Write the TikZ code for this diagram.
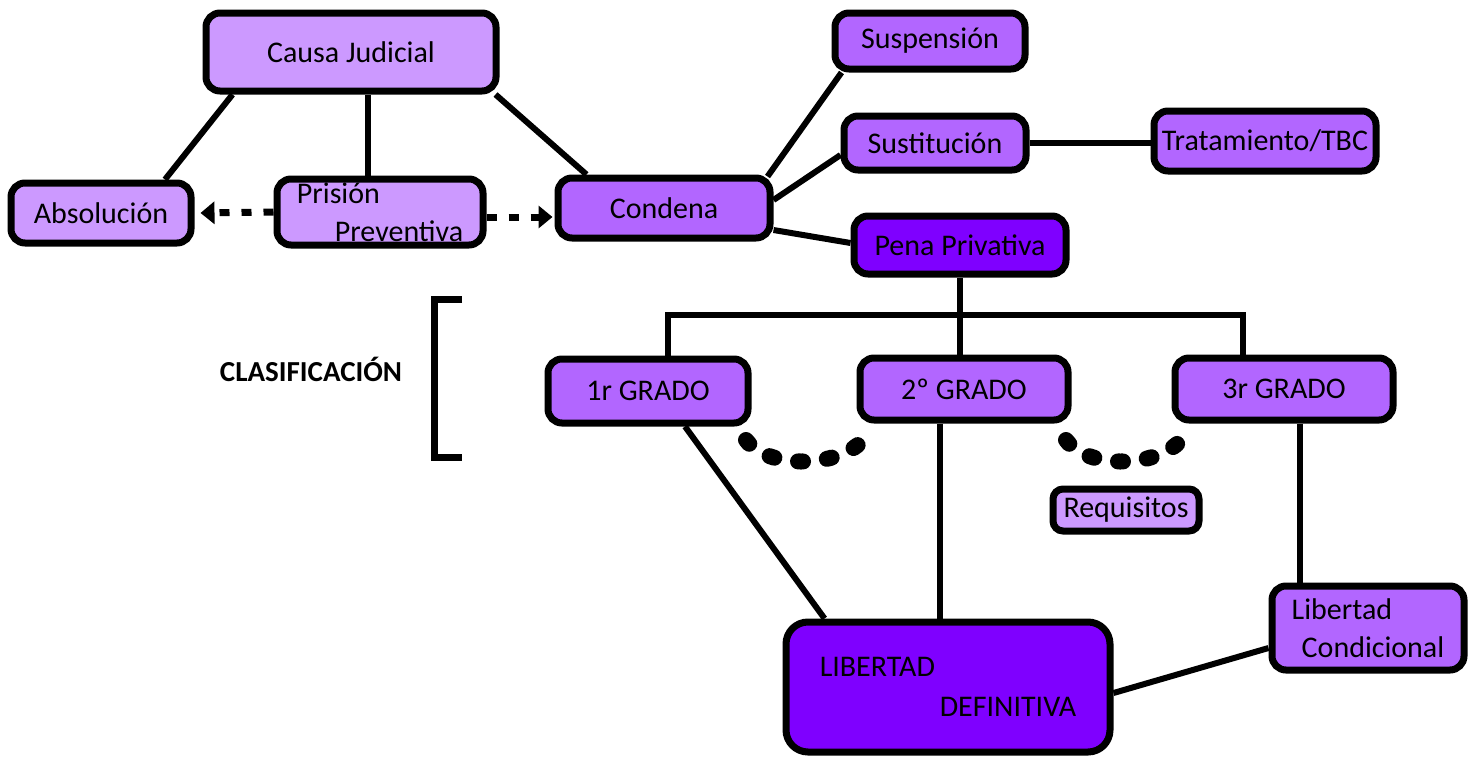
\documentclass[tikz,border=0pt]{standalone}
\usepackage{fontspec}
\setmainfont{Carlito}
\usetikzlibrary{arrows.meta,calc}
\definecolor{lightp}{HTML}{CC99FF}
\definecolor{midp}{HTML}{B266FF}
\definecolor{darkp}{HTML}{7F00FF}
\tikzset{
  box/.style={draw=black, line width=7pt, rounded corners=14pt, inner sep=0pt, font=\fontsize{30}{36}\selectfont},
  conn/.style={draw=black, line width=6pt},
  dots/.style={draw=black, line width=16pt, line cap=round, dash pattern=on 5pt off 24pt},
  dashdot/.style={draw=black, line width=7pt, dash pattern=on 10pt off 12pt, -{Triangle[length=14pt,width=22pt]}}
}
\begin{document}
\begin{tikzpicture}[x=1pt,y=-1pt]
\useasboundingbox (0,0) rectangle (1474,758);
\fill[white] (0,0) rectangle (1474,758);

\node[box, fill=lightp, minimum width=290pt, minimum height=78pt] (causa) at (351,52) {Causa Judicial};
\node[box, fill=lightp, minimum width=180pt, minimum height=60pt] (abs) at (101,213) {Absolución};
\node[box, fill=lightp, minimum width=206pt, minimum height=66pt, align=left] (pris) at (380,212) {Prisión\\[2pt]\hspace*{38pt}Preventiva};
\node[box, fill=midp, minimum width=212pt, minimum height=60pt] (cond) at (664,208) {Condena};
\node[box, fill=midp, minimum width=190pt, minimum height=56pt] (susp) at (930,41) {Suspensión};
\node[box, fill=midp, minimum width=182pt, minimum height=54pt] (sust) at (935,143) {Sustitución};
\node[box, fill=midp, minimum width=222pt, minimum height=60pt] (trat) at (1265,141) {Tratamiento/TBC};
\node[box, fill=darkp, minimum width=212pt, minimum height=58pt] (pena) at (960,245) {Pena Privativa};

\node[box, fill=midp, minimum width=200pt, minimum height=64pt] (g1) at (648,391) {1r GRADO};
\node[box, fill=midp, minimum width=208pt, minimum height=62pt] (g2) at (964,389) {2º GRADO};
\node[box, fill=midp, minimum width=218pt, minimum height=62pt] (g3) at (1284,389) {3r GRADO};
\node[box, fill=lightp, minimum width=146pt, minimum height=42pt, rounded corners=10pt] (req) at (1126,510) {Requisitos};
\node[box, fill=midp, minimum width=192pt, minimum height=84pt, align=left] (lcond) at (1368,628) {Libertad\\[2pt]\hspace*{10pt}Condicional};
\node[box, fill=darkp, minimum width=324pt, minimum height=130pt, rounded corners=22pt, align=left] (ldef) at (948,687) {LIBERTAD\\[4pt]\hspace*{120pt}DEFINITIVA};

\node[font=\fontsize{29}{32}\selectfont\bfseries] (clas) at (311,369) {CLASIFICACIÓN};

% bracket
\coordinate (bt) at (462,299);
\coordinate (bb) at (462,457);
\draw[line width=7pt] (bt) -- (bt -| 434,0) -- (bb -| 434,0) -- (bb);

% connectors
\draw[conn] ($(causa.south west)+(30,0)$) -- ($(abs.north)+(64,0)$);
\draw[conn] ($(causa.south)+(17,0)$) -- ($(pris.north)+(-12,0)$);
\draw[conn] ($(causa.south east)+(-4,0)$) -- ($(cond.north west)+(32,0)$);
\draw[dashdot] (pris.west) -- ($(abs.east)+(6,0)$);
\draw[dashdot] ($(pris.east)+(0,5)$) -- ($(cond.west)+(-2,9)$);
\draw[conn] ($(cond.north east)+(-6,2)$) -- ($(susp.south west)+(10,0)$);
\draw[conn] ($(cond.east)+(0,-8)$) -- ($(sust.west)+(0,12)$);
\draw[conn] ($(cond.east)+(0,22)$) -- ($(pena.west)+(0,-2)$);
\draw[conn] (sust.east) -- (sust.east -| trat.west);

\coordinate (hl) at (668,315);
\coordinate (hr) at (1243,315);
\draw[conn] (pena.south) -- ($(g2.north)+(-4,0)$);
\draw[conn] (hl |- g1.north) -- (hl) -- (hr) -- (hr |- g3.north);

\coordinate (g2d) at ($(g2.south)+(-24,0)$);
\coordinate (g3d) at ($(g3.south)+(16,0)$);
\draw[conn] ($(g1.south)+(37,0)$) -- ($(ldef.north west)+(42,0)$);
\draw[conn] (g2d) -- (g2d |- ldef.north);
\draw[conn] (g3d) -- (g3d |- lcond.north);
\draw[conn] ($(ldef.east)+(0,6)$) -- ($(lcond.west)+(0,20)$);

% dotted arcs
\coordinate (d1a) at (746,440);
\coordinate (d1b) at (870,430);
\coordinate (d2a) at (1066,440);
\coordinate (d2b) at (1188,430);
\draw[dots] (d1a) .. controls (770,472) and (852,468) .. (d1b);
\draw[dots] (d2a) .. controls (1090,472) and (1170,468) .. (d2b);
\end{tikzpicture}
\end{document}
